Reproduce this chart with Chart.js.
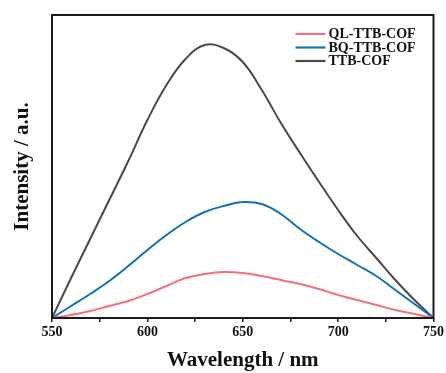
<!DOCTYPE html>
<html>
<head>
<meta charset="utf-8">
<script src="https://cdn.jsdelivr.net/npm/chart.js@4.4.1/dist/chart.umd.min.js"></script>
<style>
  html, body { margin: 0; padding: 0; background: #fff; }
  #wrap { width: 446px; height: 373px; }
</style>
</head>
<body>
<div id="wrap"><canvas id="pl"></canvas></div>
<script>
// Emission wavelengths (nm)
const wavelengths = [550, 560, 570, 580, 590, 600, 610, 620, 630, 640, 650, 660, 670, 680, 690, 700, 710, 720, 730, 740, 750];

// PL intensity (a.u.)
const qlTtbCof  = [0, 3, 7, 12, 17, 24, 32, 40, 44, 46, 45, 42, 38, 34, 29, 23, 18, 13, 8, 4, 0];
const bqTtbCof  = [0, 12, 24, 37, 52, 68, 83, 96, 106, 112, 116, 114, 104, 89, 76, 64, 53, 42, 28, 14, 0];
const ttbCof    = [0, 40, 79, 118, 157, 198, 233, 259, 273, 270, 256, 228, 195, 165, 136, 108, 82, 60, 38, 18, 0];

const seriesNames  = ['QL-TTB-COF', 'BQ-TTB-COF', 'TTB-COF'];
const seriesColors = ['#f4707f', '#0f72bd', '#4a4a4a'];
const xTicks = [550, 600, 650, 700, 750];

const serif = '"Liberation Serif", "Times New Roman", serif';

function pts(vals) {
  return wavelengths.map((w, i) => ({ x: w, y: vals[i] }));
}

// Frame around the plot area plus an in-plot legend
const framePlugin = {
  id: 'frame',
  afterDraw(chart) {
    const { ctx, chartArea: a } = chart;
    ctx.save();
    ctx.strokeStyle = '#1a1a1a';
    ctx.lineWidth = 2;
    ctx.strokeRect(a.left, a.top, a.right - a.left, a.bottom - a.top);

    ctx.font = 'bold 14px ' + serif;
    ctx.textBaseline = 'middle';
    ctx.textAlign = 'left';
    chart.data.datasets.forEach((ds, i) => {
      const y = a.top + 19 + i * 13.5;
      ctx.strokeStyle = ds.borderColor;
      ctx.lineWidth = 2.2;
      ctx.beginPath();
      ctx.moveTo(a.right - 138, y);
      ctx.lineTo(a.right - 108, y);
      ctx.stroke();
      ctx.fillStyle = '#111';
      ctx.fillText(ds.label, a.right - 105, y + 0.5);
    });
    ctx.restore();
  }
};

new Chart(document.getElementById('pl'), {
  type: 'line',
  data: {
    datasets: [
      { label: seriesNames[0], data: pts(qlTtbCof), borderColor: seriesColors[0] },
      { label: seriesNames[1], data: pts(bqTtbCof), borderColor: seriesColors[1] },
      { label: seriesNames[2], data: pts(ttbCof),   borderColor: seriesColors[2] }
    ]
  },
  options: {
    responsive: true,
    maintainAspectRatio: false,
    animation: false,
    layout: { padding: { top: 15, right: 11, left: 0, bottom: 0 } },
    elements: {
      line: { borderWidth: 2, tension: 0.4, fill: false },
      point: { radius: 0 }
    },
    plugins: {
      legend: { display: false },
      tooltip: { enabled: false }
    },
    scales: {
      x: {
        type: 'linear',
        min: 550, max: 750,
        afterFit(s) { s.height = 55; },
        afterBuildTicks(s) {
          const t = [];
          for (let v = 550; v <= 750; v += 25) t.push({ value: v });
          s.ticks = t;
        },
        ticks: {
          font: { family: serif, size: 14, weight: 'bold' },
          color: '#111',
          padding: 2,
          maxRotation: 0,
          autoSkip: false,
          callback: v => xTicks.includes(v) ? String(v) : ''
        },
        grid: {
          drawOnChartArea: false,
          drawTicks: true,
          tickLength: 4,
          color: '#1a1a1a',
          lineWidth: 1.5
        },
        border: { display: false },
        title: {
          display: true,
          text: 'Wavelength / nm',
          font: { family: serif, size: 21, weight: 'bold' },
          color: '#111',
          padding: { top: 0, bottom: 0 }
        }
      },
      y: {
        min: 0, max: 303,
        afterFit(s) { s.width = 52; },
        ticks: { display: false },
        grid: { display: false },
        border: { display: false },
        title: {
          display: true,
          text: 'Intensity / a.u.',
          font: { family: serif, size: 21, weight: 'bold' },
          color: '#111',
          padding: { top: 10, bottom: 0 }
        }
      }
    }
  },
  plugins: [framePlugin]
});
</script>
</body>
</html>
